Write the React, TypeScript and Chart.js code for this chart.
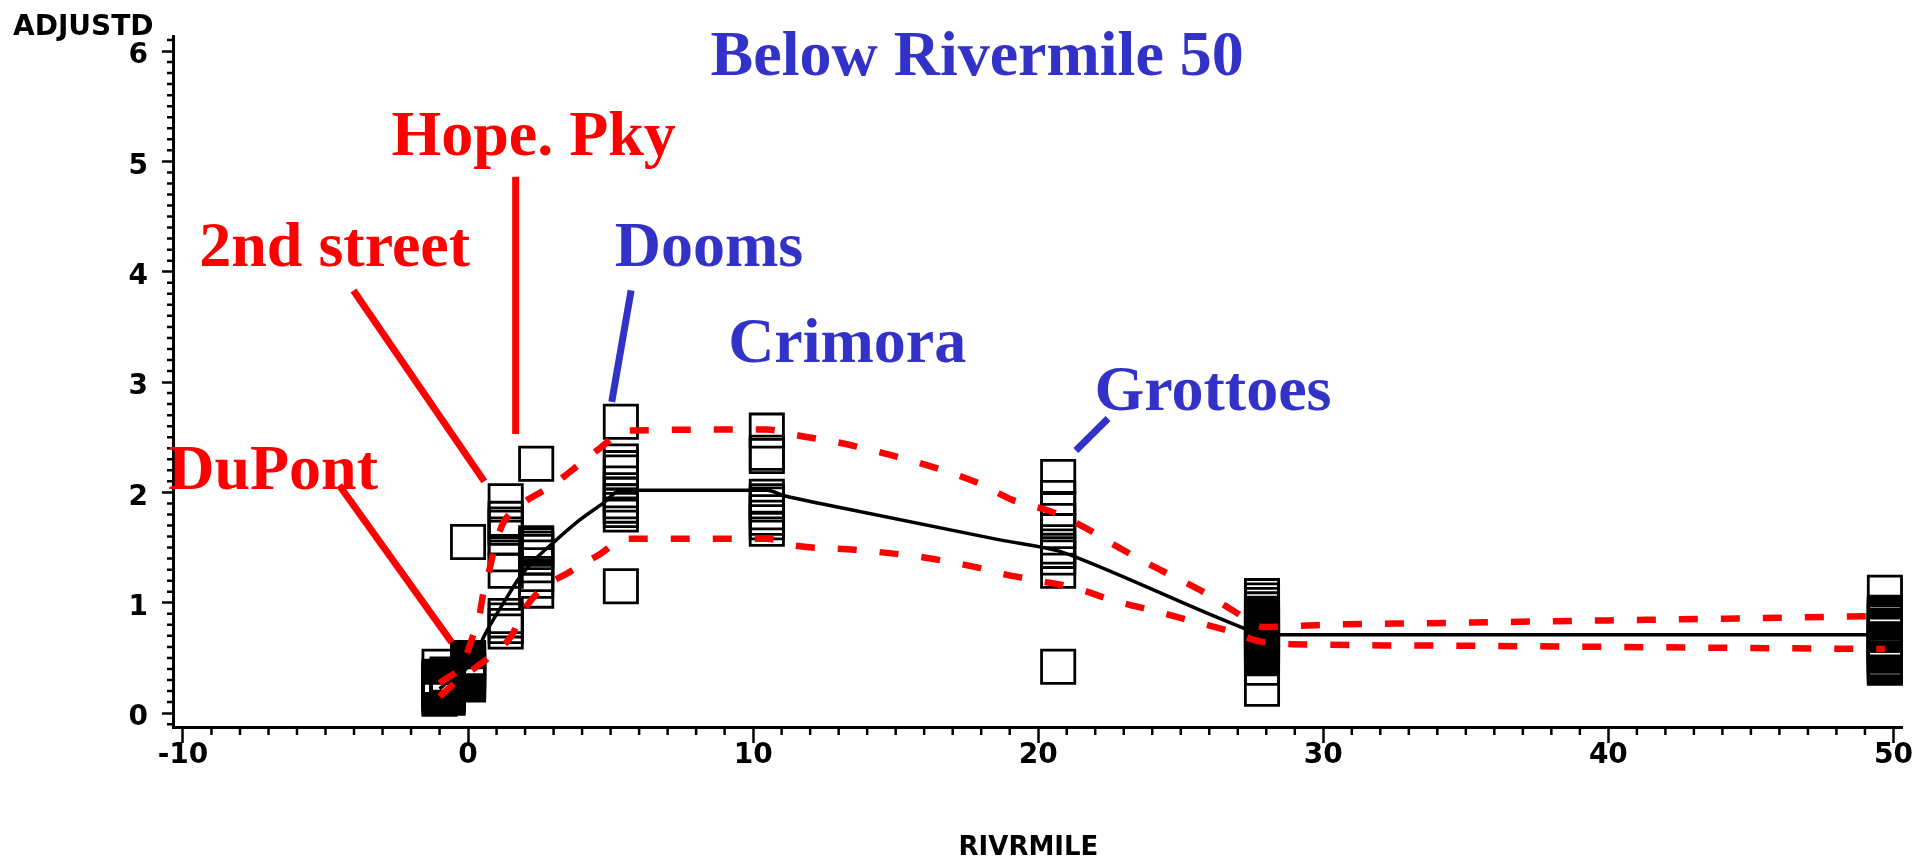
import React, { useEffect, useRef } from 'react';
import { Chart, registerables } from 'chart.js';

Chart.register(...registerables);

// ---- observed data (RIVRMILE stations and ADJUSTD values) ----
const stationMiles = [-1.0, -0.72, 0.0, 1.32, 2.39, 5.36, 10.48, 20.7, 27.85, 49.7];

const valsMileM100 = [0.42, 0.33, 0.316, 0.302, 0.287, 0.27, 0.256, 0.241, 0.224, 0.21, 0.196, 0.18, 0.166, 0.149, 0.13];
const valsMileM072 = [0.35, 0.336, 0.321, 0.305, 0.291, 0.274, 0.26, 0.246, 0.229, 0.214, 0.2, 0.184, 0.171, 0.155, 0.14];
const valsMile000 = [1.55, 0.5, 0.486, 0.47, 0.452, 0.437, 0.42, 0.403, 0.387, 0.372, 0.356, 0.34, 0.322, 0.306, 0.29, 0.276, 0.26];
const valsMile132 = [1.92, 1.76, 1.71, 1.68, 1.59, 1.44, 1.29, 0.88, 0.84, 0.79, 0.74];
const valsMile239 = [2.26, 1.54, 1.52, 1.49, 1.46, 1.41, 1.34, 1.26, 1.2, 1.11];
const valsMile536 = [2.64, 2.28, 2.22, 2.18, 2.08, 2.02, 1.98, 1.92, 1.88, 1.84, 1.8, 1.15];
const valsMile1048 = [2.56, 2.36, 2.33, 1.96, 1.92, 1.89, 1.82, 1.77, 1.73, 1.67];
const valsMile2070 = [2.14, 1.95, 1.85, 1.74, 1.65, 1.51, 1.47, 1.41, 1.29, 0.42];
const valsMile2785 = [
  1.06, 1.02, 0.98, 0.94, 0.9, 0.886, 0.871, 0.858, 0.842, 0.827, 0.812, 0.8,
  0.783, 0.768, 0.752, 0.739, 0.722, 0.708, 0.693, 0.679, 0.662, 0.648, 0.633,
  0.617, 0.604, 0.588, 0.572, 0.557, 0.543, 0.527, 0.512, 0.497, 0.41, 0.22,
];
const valsMile4970 = [
  1.09, 0.91, 0.895, 0.88, 0.866, 0.85, 0.835, 0.82, 0.77, 0.756, 0.74, 0.725,
  0.71, 0.67, 0.655, 0.641, 0.625, 0.61, 0.596, 0.58, 0.566, 0.55, 0.535, 0.52,
  0.49, 0.476, 0.46, 0.445, 0.43, 0.41,
];

const stationValues = [
  valsMileM100, valsMileM072, valsMile000, valsMile132, valsMile239,
  valsMile536, valsMile1048, valsMile2070, valsMile2785, valsMile4970,
];

// ---- fitted curve ----
const fitMiles = [-1.0, -0.72, 0.0, 0.29, 0.65, 1.39, 1.81, 2.34, 2.97, 3.92, 4.73, 5.36, 10.48, 11.1, 12.35, 18.65, 20.7, 21.25, 27.2, 27.85, 49.7];
const fitValues = [0.22, 0.28, 0.42, 0.55, 0.74, 1.06, 1.23, 1.39, 1.54, 1.75, 1.9, 2.02, 2.02, 1.97, 1.9, 1.57, 1.47, 1.42, 0.77, 0.71, 0.71];

// ---- upper / lower bands ----
const upperMiles = [-1.0, -0.17, 0.12, 0.41, 0.53, 0.76, 0.94, 1.23, 1.81, 2.93, 3.74, 4.62, 5.56, 10.48, 11.5, 13.56, 17.85, 19.11, 20.52, 21.64, 22.69, 23.74, 24.8, 25.85, 26.83, 27.9, 30, 35, 40, 45, 49.7];
const upperValues = [0.27, 0.46, 0.66, 0.9, 1.08, 1.31, 1.51, 1.72, 1.88, 2.06, 2.22, 2.4, 2.56, 2.57, 2.52, 2.42, 2.09, 1.93, 1.82, 1.68, 1.52, 1.37, 1.23, 1.09, 0.93, 0.78, 0.8, 0.82, 0.84, 0.86, 0.88];
const lowerMiles = [-1.0, -0.2, 0.3, 0.85, 1.52, 1.93, 2.52, 3.57, 4.56, 5.56, 10.48, 11.4, 13.57, 16.0, 17.85, 18.76, 20.0, 21.36, 22.62, 24.02, 25.32, 26.62, 27.88, 30, 35, 40, 45, 49.7];
const lowerValues = [0.15, 0.33, 0.42, 0.53, 0.7, 0.92, 1.11, 1.28, 1.43, 1.58, 1.58, 1.52, 1.48, 1.41, 1.32, 1.26, 1.2, 1.13, 1.02, 0.93, 0.84, 0.75, 0.645, 0.62, 0.61, 0.6, 0.59, 0.58];

// ---- axes ----
const xTickValues = [-10, 0, 10, 20, 30, 40, 50];
const yTickValues = [0, 1, 2, 3, 4, 5, 6];
const xAxisTitle = 'RIVRMILE';
const yAxisTitle = 'ADJUSTD';

// ---- annotations (data coordinates) ----
const RED = '#FF0000';
const BLUE = '#3232C8';
const noteTexts = ['Below Rivermile 50', 'Hope. Pky', '2nd street', 'Dooms', 'Crimora', 'Grottoes', 'DuPont'];
const noteColors = [BLUE, RED, RED, BLUE, BLUE, BLUE, RED];
const noteX = [17.86, 2.3, -4.68, 8.45, 13.3, 26.13, -6.84];
const noteY = [5.78, 5.06, 4.05, 4.05, 3.18, 2.75, 2.03];

const pointerColors = [RED, RED, RED, BLUE, BLUE];
const pointerX1 = [-4.52, -4.02, 1.67, 5.72, 22.45];
const pointerY1 = [2.065, 3.83, 4.86, 3.83, 2.67];
const pointerX2 = [-0.57, 0.57, 1.67, 5.04, 21.32];
const pointerY2 = [0.64, 2.1, 2.53, 2.82, 2.38];

const X_MIN = -10.35;
const X_MAX = 50.3;
const Y_MIN = -0.126;
const Y_MAX = 6.136;

const AXIS_FONT = '"DejaVu Sans", "Liberation Sans", sans-serif';
const NOTE_FONT = '"Liberation Serif", "Times New Roman", serif';

const decorPlugin = {
  id: 'decor',
  afterDraw(chart: any) {
    const { ctx, chartArea } = chart;
    const xs = chart.scales.x;
    const ys = chart.scales.y;
    ctx.save();
    // minor ticks
    ctx.strokeStyle = '#000';
    ctx.lineWidth = 2.5;
    ctx.beginPath();
    for (let i = -1; i <= 61; i++) {
      if (i % 10 === 0) continue;
      const py = ys.getPixelForValue(i / 10);
      if (py < chartArea.top - 0.5 || py > chartArea.bottom) continue;
      ctx.moveTo(chartArea.left - 6, py);
      ctx.lineTo(chartArea.left, py);
    }
    for (let i = -10; i <= 50; i++) {
      if (i % 10 === 0) continue;
      const px = xs.getPixelForValue(i);
      ctx.moveTo(px, chartArea.bottom);
      ctx.lineTo(px, chartArea.bottom + 8);
    }
    ctx.stroke();

    // y axis title at top-left
    ctx.fillStyle = '#000';
    ctx.font = `bold 28px ${AXIS_FONT}`;
    ctx.textAlign = 'left';
    ctx.textBaseline = 'alphabetic';
    ctx.fillText(yAxisTitle, 13, 35);

    // pointer lines
    ctx.lineWidth = 7;
    ctx.lineCap = 'butt';
    for (let i = 0; i < pointerX1.length; i++) {
      ctx.strokeStyle = pointerColors[i];
      ctx.beginPath();
      ctx.moveTo(xs.getPixelForValue(pointerX1[i]), ys.getPixelForValue(pointerY1[i]));
      ctx.lineTo(xs.getPixelForValue(pointerX2[i]), ys.getPixelForValue(pointerY2[i]));
      ctx.stroke();
    }

    // notes
    ctx.font = `bold 64px ${NOTE_FONT}`;
    ctx.textAlign = 'center';
    ctx.textBaseline = 'alphabetic';
    for (let i = 0; i < noteTexts.length; i++) {
      ctx.fillStyle = noteColors[i];
      ctx.fillText(noteTexts[i], xs.getPixelForValue(noteX[i]), ys.getPixelForValue(noteY[i]));
    }
    ctx.restore();
  },
};

export default function App() {
  const canvasRef = useRef<HTMLCanvasElement | null>(null);

  useEffect(() => {
    const canvas = canvasRef.current;
    if (!canvas) return;
    const obsPoints = stationMiles.flatMap((m, i) => stationValues[i].map((v) => ({ x: m, y: v })));
    const toXY = (xsArr: number[], ysArr: number[]) => xsArr.map((x, i) => ({ x, y: ysArr[i] }));

    const bandStyle = {
      showLine: true,
      borderColor: RED,
      borderWidth: 6.5,
      borderDash: [19, 23],
      borderCapStyle: 'butt',
      cubicInterpolationMode: 'monotone',
      pointRadius: 0,
      order: 0,
    };

    const chart = new Chart(canvas, {
      type: 'scatter',
      data: {
        datasets: [
          { label: 'upper', data: toXY(upperMiles, upperValues), ...bandStyle } as any,
          { label: 'lower', data: toXY(lowerMiles, lowerValues), ...bandStyle } as any,
          {
            label: 'fit',
            data: toXY(fitMiles, fitValues),
            showLine: true,
            borderColor: '#000',
            borderWidth: 3.5,
            cubicInterpolationMode: 'monotone',
            pointRadius: 0,
            order: 1,
          } as any,
          {
            label: 'ADJUSTD',
            data: obsPoints,
            pointStyle: 'rect',
            pointRadius: 23.5,
            borderColor: '#000',
            borderWidth: 2.8,
            backgroundColor: 'rgba(0,0,0,0)',
            order: 2,
          } as any,
        ],
      },
      options: {
        animation: false,
        responsive: false,
        events: [],
        clip: false as any,
        layout: { autoPadding: false, padding: { left: 0, top: 36, right: 13, bottom: 0 } },
        plugins: {
          legend: { display: false },
          tooltip: { enabled: false },
          title: { display: false },
        },
        scales: {
          x: {
            type: 'linear',
            min: X_MIN,
            max: X_MAX,
            afterBuildTicks: (s: any) => {
              s.ticks = xTickValues.map((value) => ({ value }));
            },
            afterFit: (s: any) => {
              s.height = 130;
              s.paddingLeft = 0;
              s.paddingRight = 0;
            },
            grid: {
              drawOnChartArea: false,
              drawTicks: true,
              tickLength: 16,
              tickWidth: 2.5,
              color: '#000',
              tickColor: '#000',
            },
            border: { display: true, color: '#000', width: 3 },
            ticks: {
              color: '#000',
              padding: -1,
              maxRotation: 0,
              autoSkip: false,
              font: { family: AXIS_FONT, size: 28, weight: 'bold', lineHeight: 1 },
            },
            title: {
              display: true,
              // trailing no-break spaces nudge the centred title slightly left
              text: xAxisTitle + '\u00A0\u00A0',
              color: '#000',
              padding: { top: 0, bottom: -4 },
              font: { family: AXIS_FONT, size: 26, weight: 'bold', lineHeight: 1 },
            },
          },
          y: {
            type: 'linear',
            min: Y_MIN,
            max: Y_MAX,
            afterBuildTicks: (s: any) => {
              s.ticks = yTickValues.map((value) => ({ value }));
            },
            afterFit: (s: any) => {
              s.width = 173;
              s.paddingTop = 0;
              s.paddingBottom = 0;
            },
            grid: {
              drawOnChartArea: false,
              drawTicks: true,
              tickLength: 11,
              tickWidth: 2.5,
              color: '#000',
              tickColor: '#000',
            },
            border: { display: true, color: '#000', width: 3 },
            ticks: {
              color: '#000',
              padding: 14,
              autoSkip: false,
              // two-line label: empty first line nudges the digit slightly below its tick
              callback: (value: any) => ['', String(value)],
              font: { family: AXIS_FONT, size: 28, weight: 'bold', lineHeight: '10px' },
            },
          },
        },
      } as any,
      plugins: [decorPlugin],
    });
    return () => chart.destroy();
  }, []);

  return (
    <div style={{ position: 'absolute', left: 0, top: 0, width: 1915, height: 857, background: '#fff' }}>
      <canvas ref={canvasRef} width={1915} height={857} style={{ display: 'block' }} />
    </div>
  );
}
